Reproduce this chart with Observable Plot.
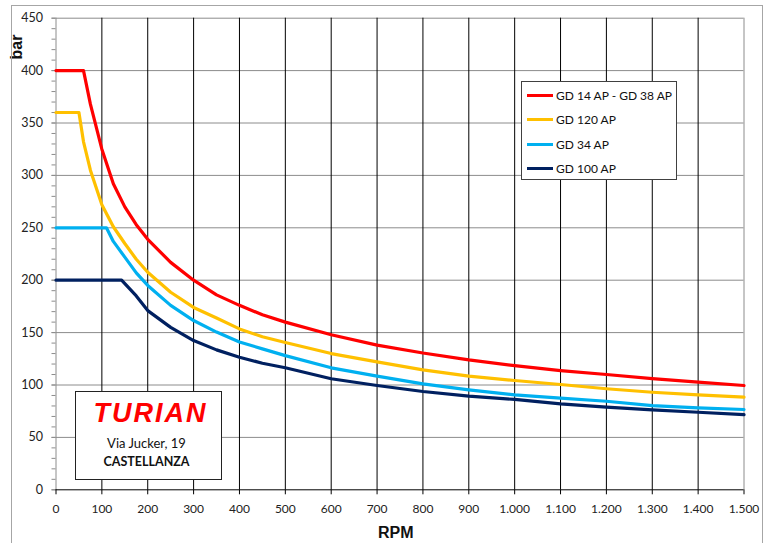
<!DOCTYPE html>
<html>
<head>
<meta charset="utf-8">
<script src="https://cdn.jsdelivr.net/npm/d3@7"></script>
<script src="https://cdn.jsdelivr.net/npm/@observablehq/plot@0.6"></script>
<style>
  body { margin: 0; background: #fff; }
  #wrap { position: relative; width: 771px; height: 543px; overflow: hidden; font-family: Lato, "Open Sans", sans-serif; }
  #border { position: absolute; left: 11px; top: 5px; width: 750px; height: 580px; border: 1px solid #a6a6a6; pointer-events: none; }
  #legend { position: absolute; left: 521px; top: 81px; width: 154px; height: 97px; border: 1px solid #404040; background: #fff; }
  .lg { position: absolute; left: 5px; height: 16px; display: flex; align-items: center; font-size: 12px; color: #111; white-space: nowrap; }
  .lg span.sw { display: inline-block; width: 26px; height: 3px; margin-right: 3px; }
  #logo { position: absolute; left: 75px; top: 391px; width: 145px; height: 87px; border: 1px solid #222; background: #fff; }
  #logo .t { position: absolute; left: 0; width: 141px; text-align: center; }
</style>
</head>
<body>
<div id="wrap">
  <div id="chart"></div>
  <div id="legend"></div>
  <div id="logo">
    <div class="t" style="top:6px;left:4px;font-family:'Liberation Sans',Arial,sans-serif;font-weight:bold;font-style:italic;font-size:27px;letter-spacing:2px;color:#ff0000;">TURIAN</div>
    <div class="t" style="top:43px;font-size:13px;color:#111;">Via Jucker, 19</div>
    <div class="t" style="top:62px;font-size:12.5px;font-weight:bold;color:#111;">CASTELLANZA</div>
  </div>
  <div id="border"></div>
</div>
<script>
// ---- data ----
const seriesNames = ["GD 14 AP - GD 38 AP", "GD 120 AP", "GD 34 AP", "GD 100 AP"];
const seriesColors = ["#ff0000", "#ffc000", "#00b0f0", "#002060"];

const redRpm = [0, 60, 75, 100, 125, 150, 175, 200, 250, 300, 350, 400, 450, 500, 600, 700, 800, 900, 1000, 1100, 1200, 1300, 1400, 1500];
const redBar = [400, 400, 368, 325, 292, 270, 253, 239, 217, 200, 186, 176, 167, 160, 148, 138, 130.5, 124, 118.5, 113.8, 110, 106, 102.7, 99.5];

const yellowRpm = [0, 50, 60, 75, 100, 125, 150, 175, 200, 250, 300, 350, 400, 450, 500, 600, 700, 800, 900, 1000, 1100, 1200, 1300, 1400, 1500];
const yellowBar = [360, 360, 332, 305, 272, 251, 235, 220, 207.6, 188.5, 174, 164, 153.5, 146, 140.5, 130, 122, 114.5, 108.4, 104.3, 100.5, 96.4, 93.1, 90.6, 88.4];

const blueRpm = [0, 110, 125, 150, 175, 200, 250, 300, 350, 400, 450, 500, 600, 700, 800, 900, 1000, 1100, 1200, 1300, 1400, 1500];
const blueBar = [250, 250, 237, 222, 207, 195, 176, 161.5, 150.5, 141, 134.5, 128, 116.4, 108.4, 101, 95.4, 90.6, 87.4, 84.5, 80.4, 78.2, 76.6];

const navyRpm = [0, 143, 175, 200, 250, 300, 350, 400, 450, 500, 600, 700, 800, 900, 1000, 1100, 1200, 1300, 1400, 1500];
const navyBar = [200, 200, 185, 171, 155, 142.4, 133.5, 126.5, 120.8, 116.5, 106, 99.5, 93.8, 89.3, 86.2, 82, 78.8, 76.3, 74, 71.8];

const xTicks = d3.range(0, 1501, 100);
const yTicks = d3.range(0, 451, 50);
const yMinor = d3.range(0, 451, 10);

// ---- build rows ----
const rpmLists = [redRpm, yellowRpm, blueRpm, navyRpm];
const barLists = [redBar, yellowBar, blueBar, navyBar];
const rows = [];
rpmLists.forEach((rl, i) => rl.forEach((r, j) => rows.push({series: seriesNames[i], rpm: r, bar: barLists[i][j]})));

const fmt = d => d3.format(",")(d).replace(/,/g, ".");

const chart = Plot.plot({
  width: 771,
  height: 543,
  marginLeft: 55.5,
  marginRight: 27.5,
  marginTop: 17.7,
  marginBottom: 53.7,
  style: {fontFamily: "Lato, 'Open Sans', sans-serif", fontSize: "12px", background: "transparent", overflow: "visible"},
  x: {domain: [0, 1500]},
  y: {domain: [0, 450]},
  color: {domain: seriesNames, range: seriesColors},
  marks: [
    Plot.gridY(yTicks.filter(d => d > 0), {stroke: "#8c8c8c", strokeOpacity: 1}),
    Plot.gridX(xTicks.filter(d => d > 0 && d < 1500), {stroke: "#000", strokeOpacity: 1}),
    Plot.ruleX([1500], {stroke: "#8c8c8c"}),
    Plot.ruleX([0], {stroke: "#8c8c8c"}),
    Plot.axisY({ticks: yMinor, tickSize: 4, tickFormat: () => "", stroke: "#8c8c8c", label: null}),
    Plot.axisY({ticks: yTicks, tickSize: 4, tickPadding: 9, stroke: "#8c8c8c", fill: "#222", fontSize: 12.5, label: null}),
    Plot.axisX({ticks: xTicks, tickSize: 5, tickPadding: 10, tickFormat: fmt, stroke: "#000", fill: "#222", fontSize: 12, label: null}),
    Plot.ruleY([0], {stroke: "#000"}),
    Plot.line(rows, {x: "rpm", y: "bar", z: "series", stroke: "series", strokeWidth: 3.2, strokeLinejoin: "round"}),
    Plot.text(["RPM"], {frameAnchor: "bottom", textAnchor: "middle", lineAnchor: "middle", dx: -4.2, dy: 42.7, fontWeight: "bold", fontSize: 16, fill: "#111", fontFamily: "'Liberation Sans', Arial, sans-serif"}),
    Plot.text(["bar"], {frameAnchor: "top-left", textAnchor: "middle", lineAnchor: "middle", dx: -39.5, dy: 28.8, rotate: -90, fontWeight: "bold", fontSize: 16, fill: "#111", fontFamily: "'Liberation Sans', Arial, sans-serif"})
  ]
});
document.getElementById("chart").appendChild(chart);

// legend
const lg = document.getElementById("legend");
seriesNames.forEach((n, i) => {
  const d = document.createElement("div");
  d.className = "lg";
  d.style.top = (5 + i * 24.6) + "px";
  d.innerHTML = `<span class="sw" style="background:${seriesColors[i]}"></span>${n}`;
  lg.appendChild(d);
});
</script>
</body>
</html>
